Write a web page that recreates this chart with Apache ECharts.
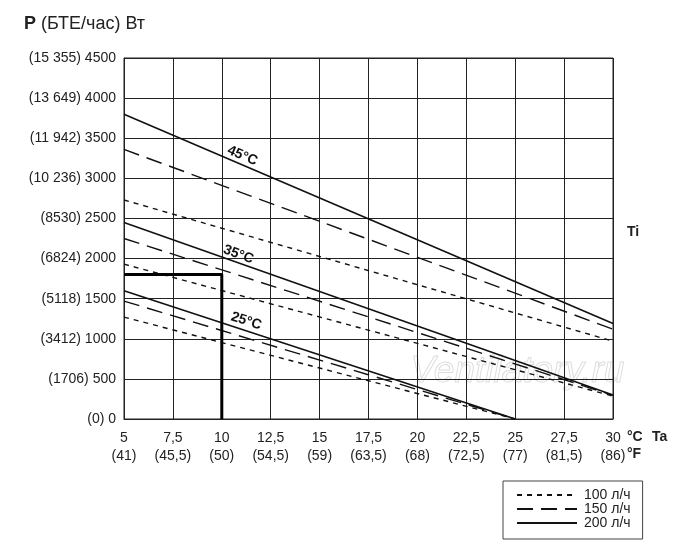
<!DOCTYPE html>
<html>
<head>
<meta charset="utf-8">
<script src="https://cdn.jsdelivr.net/npm/echarts@6/dist/echarts.min.js"></script>
<style>
  html, body { margin: 0; padding: 0; background: #fff; }
  #chart { width: 700px; height: 550px; }
</style>
</head>
<body>
<div id="chart"></div>
<script>
// ambient temperature ticks (°C) and their °F captions
const xTicksC = [5, 7.5, 10, 12.5, 15, 17.5, 20, 22.5, 25, 27.5, 30];
const xTicksF = ['(41)', '(45,5)', '(50)', '(54,5)', '(59)', '(63,5)', '(68)', '(72,5)', '(77)', '(81,5)', '(86)'];
// power ticks (W) and BTU/h captions
const yTicksW = [0, 500, 1000, 1500, 2000, 2500, 3000, 3500, 4000, 4500];
const yTicksBtu = ['(0)', '(1706)', '(3412)', '(5118)', '(6824)', '(8530)', '(10 236)', '(11 942)', '(13 649)', '(15 355)'];

// flow rates
const flows = ['100 л/ч', '150 л/ч', '200 л/ч'];

// Ti = 45°C : power at Ta = 5 and Ta = 30
const ti45_x = [5, 30];
const ti45_100 = [2730, 970];
const ti45_150 = [3360, 1120];
const ti45_200 = [3800, 1190];
// Ti = 35°C
const ti35_x = [5, 30];
const ti35_100 = [1930, 285];
const ti35_150 = [2250, 295];
const ti35_200 = [2450, 300];
// Ti = 25°C
const ti25_x = [5, 25];
const ti25_100 = [1270, 0];
const ti25_150 = [1470, 0];
const ti25_200 = [1600, 0];

// example reading: Ta = 10°C -> 1800 W
const exampleX = [5, 10, 10];
const exampleY = [1800, 1800, 0];

// curve labels
const tiLabels = ['45°C', '35°C', '25°C'];
const tiLabelX = [11.05, 10.85, 11.25];
const tiLabelY = [3280, 2050, 1220];
const tiLabelRot = [-23, -20, -18];

const dashStyles = {
  '100 л/ч': [5, 5],
  '150 л/ч': [16, 8],
  '200 л/ч': 'solid'
};

function pairs(xs, ys) { return xs.map((x, i) => [x, ys[i]]); }

function curve(name, xs, ys) {
  return {
    name: name, type: 'line', data: pairs(xs, ys), symbol: 'none', silent: true,
    lineStyle: { color: '#111', width: name === '200 л/ч' ? 1.6 : 1.4, type: dashStyles[name] },
    itemStyle: { color: '#111' }
  };
}

const series = [
  curve(flows[0], ti45_x, ti45_100), curve(flows[1], ti45_x, ti45_150), curve(flows[2], ti45_x, ti45_200),
  curve(flows[0], ti35_x, ti35_100), curve(flows[1], ti35_x, ti35_150), curve(flows[2], ti35_x, ti35_200),
  curve(flows[0], ti25_x, ti25_100), curve(flows[1], ti25_x, ti25_150), curve(flows[2], ti25_x, ti25_200),
  {
    name: 'example', type: 'line', data: pairs(exampleX, exampleY), symbol: 'none', silent: true,
    lineStyle: { color: '#000', width: 3 }
  }
];
tiLabels.forEach((t, i) => {
  series.push({
    name: 'lbl' + i, type: 'scatter', symbolSize: 0, silent: true,
    itemStyle: { opacity: 1, color: '#111' },
    data: [[tiLabelX[i], tiLabelY[i]]],
    label: {
      show: true, position: 'inside', formatter: t, rotate: tiLabelRot[i], opacity: 1,
      color: '#111', fontSize: 14, fontWeight: 'bold', fontFamily: 'Liberation Sans'
    }
  });
});

const chart = echarts.init(document.getElementById('chart'));
chart.setOption({
  animation: false,
  backgroundColor: '#fff',
  textStyle: { fontFamily: 'Liberation Sans' },
  title: {
    text: '{b|P} (БТЕ/час) Вт', left: 19, top: 10,
    textStyle: {
      fontSize: 18, fontWeight: 'normal', color: '#222',
      rich: { b: { fontSize: 18, fontWeight: 'bold', color: '#222' } }
    }
  },
  grid: { left: 124, right: 87, top: 58, bottom: 131, show: true, borderColor: '#222', borderWidth: 1 },
  xAxis: {
    type: 'value', min: 5, max: 30, interval: 2.5,
    axisLine: { show: true, lineStyle: { color: '#222' } },
    axisTick: { show: false },
    splitLine: { show: true, lineStyle: { color: '#222', width: 1 } },
    axisLabel: {
      margin: 10, color: '#222', fontSize: 14, lineHeight: 18,
      formatter: v => {
        const i = xTicksC.indexOf(v);
        return i < 0 ? '' : String(v).replace('.', ',') + '\n' + xTicksF[i];
      }
    }
  },
  yAxis: {
    type: 'value', min: 0, max: 4500, interval: 500,
    axisLine: { show: true, lineStyle: { color: '#222' } },
    axisTick: { show: false },
    splitLine: { show: true, lineStyle: { color: '#222', width: 1 } },
    axisLabel: {
      margin: 8, color: '#222', fontSize: 14,
      formatter: v => {
        const i = yTicksW.indexOf(v);
        return i < 0 ? '' : yTicksBtu[i] + ' ' + v;
      }
    }
  },
  legend: {
    data: flows, orient: 'vertical', left: 503, top: 481,
    width: 141, padding: [7, 12, 9, 13], itemGap: 0,
    itemWidth: 60, itemHeight: 14.3,
    borderColor: '#444', borderWidth: 1, borderRadius: 0,
    selectedMode: false,
    itemStyle: { opacity: 0 },
    textStyle: { color: '#222', fontSize: 14, padding: [0, 0, 0, 2] }
  },
  graphic: [
    { type: 'text', left: 627, top: 430, style: { text: '°C', fontSize: 14, fontWeight: 'bold', fill: '#222', fontFamily: 'Liberation Sans' } },
    { type: 'text', left: 652, top: 430, style: { text: 'Ta', fontSize: 14, fontWeight: 'bold', fill: '#222', fontFamily: 'Liberation Sans' } },
    { type: 'text', left: 627, top: 447, style: { text: '°F', fontSize: 14, fontWeight: 'bold', fill: '#222', fontFamily: 'Liberation Sans' } },
    { type: 'text', left: 627, top: 225, style: { text: 'Ti', fontSize: 14, fontWeight: 'bold', fill: '#222', fontFamily: 'Liberation Sans' } },
    { type: 'text', left: 410, top: 353, z: 0, style: { text: 'Ventilatory.ru', fontSize: 37, fontStyle: 'italic', fill: 'rgba(255,255,255,0)', stroke: 'rgba(170,170,170,0.4)', lineWidth: 1, fontFamily: 'Liberation Sans' } }
  ],
  series: series
});
</script>
</body>
</html>
